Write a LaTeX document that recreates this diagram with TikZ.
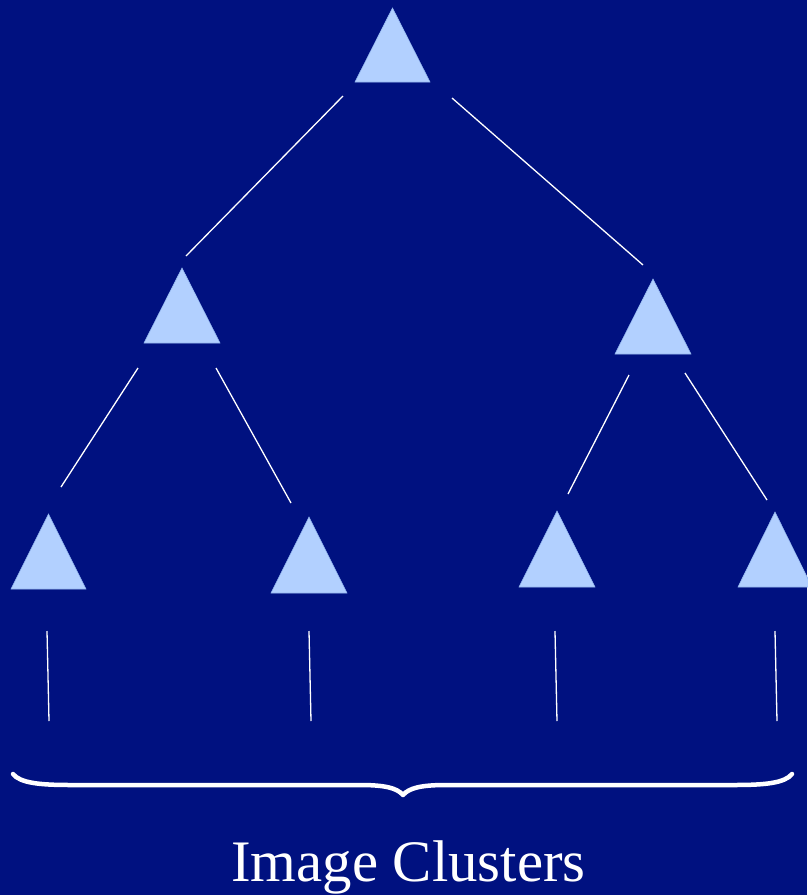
\documentclass[tikz,border=0pt]{standalone}
\usepackage{fontspec}
\setmainfont{Liberation Serif}
\definecolor{bgblue}{RGB}{0,17,128}
\definecolor{trifill}{RGB}{178,208,255}
\definecolor{triedge}{RGB}{150,185,240}
\begin{document}
\begin{tikzpicture}[x=1pt,y=-1pt,
  tri/.style={fill=trifill,draw=triedge,line width=0.6pt,line join=miter},
  link/.style={draw=white,line width=1.3pt},
  bracestyle/.style={draw=white,line width=4.5pt,line cap=round,line join=round}]
\fill[bgblue] (0,0) rectangle (807,895);
\useasboundingbox (0,0) rectangle (807,895);
% triangles
\newcommand{\tri}[4]{\path[tri] (#1,#2) -- (#3,#4) -- ({2*#1-#3},#4) -- cycle;}
\tri{392.5}{8}{355}{82}
\tri{182}{268}{144}{343}
\tri{653}{279}{615}{354}
\tri{48.5}{514}{11}{589}
\tri{309}{517}{271}{593}
\tri{557}{511}{519}{587}
\tri{775}{512}{738}{587}
% connector end points
\coordinate (a1) at (343,96);  \coordinate (a2) at (186,256);
\coordinate (b1) at (452,98);  \coordinate (b2) at (643,265);
\coordinate (c1) at (138,368); \coordinate (c2) at (61,487);
\coordinate (d1) at (216,368); \coordinate (d2) at (291,503);
\coordinate (e1) at (629,375); \coordinate (e2) at (568,494);
\coordinate (f1) at (685,373); \coordinate (f2) at (767,500);
\coordinate (g1) at (47,631);  \coordinate (g2) at (49,721);
\coordinate (h1) at (309,631); \coordinate (h2) at (311,721);
\coordinate (i1) at (555,631); \coordinate (i2) at (557,721);
\coordinate (j1) at (775,631); \coordinate (j2) at (777,721);
\foreach \p/\q in {a1/a2,b1/b2,c1/c2,d1/d2,e1/e2,f1/f2,g1/g2,h1/h2,i1/i2,j1/j2}
  \path[link] (\p) -- (\q);
% brace
\coordinate (bl) at (13,774);
\coordinate (br) at (792,774);
\coordinate (bt) at (403,795);
\path[bracestyle] (bl) .. controls (20,783) and (40,785) .. (70,785)
  -- (360,785) .. controls (385,785) and (397,788) .. (bt)
  .. controls (409,788) and (421,785) .. (446,785)
  -- (735,785) .. controls (765,785) and (785,783) .. (br);
\node[text=white,font=\fontsize{58.8}{60}\selectfont,anchor=base,inner sep=0pt] (lbl) at (408.5,881) {Image Clusters};
\end{tikzpicture}
\end{document}
